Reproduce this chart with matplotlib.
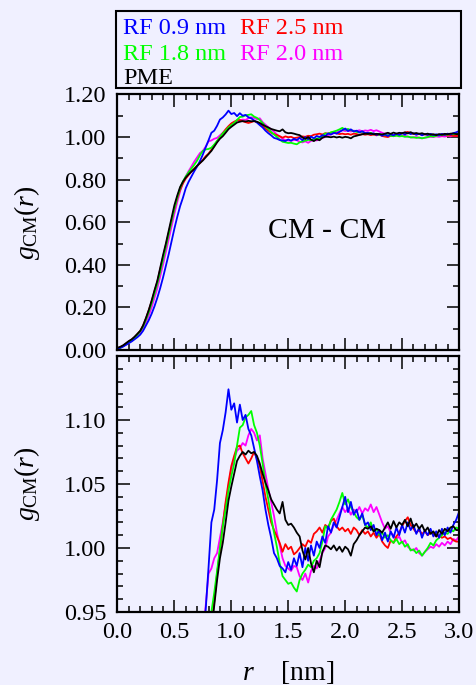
import numpy as np
import matplotlib
matplotlib.use("Agg")
import matplotlib.pyplot as plt
from matplotlib.patches import Rectangle
from matplotlib.ticker import MultipleLocator

plt.rcParams['font.family'] = ['Liberation Serif', 'DejaVu Serif']
plt.rcParams['mathtext.fontset'] = 'custom'
plt.rcParams['mathtext.rm'] = 'Liberation Serif'
plt.rcParams['mathtext.it'] = 'Liberation Serif:italic'

# r grid, 0 .. 3 nm in 0.025 nm steps (8 values per row = 0.2 nm)
r = np.linspace(0.0, 3.0, 121)

g_rf09 = [
    0.005, 0.010, 0.016, 0.024, 0.032, 0.040, 0.050, 0.060,
    0.072, 0.090, 0.115, 0.140, 0.170, 0.205, 0.245, 0.290,
    0.340, 0.395, 0.450, 0.510, 0.570, 0.625, 0.675, 0.715,
    0.760, 0.790, 0.815, 0.840, 0.862, 0.888, 0.918, 0.952,
    0.985, 1.020, 1.030, 1.053, 1.082, 1.092, 1.106, 1.124,
    1.108, 1.113, 1.098, 1.112, 1.100, 1.104, 1.093, 1.088,
    1.078, 1.068, 1.056, 1.045, 1.030, 1.018, 1.008, 0.996,
    0.992, 0.986, 0.984, 0.981, 0.989, 0.983, 0.992, 0.986,
    0.996, 0.985, 1.000, 0.990, 1.002, 0.994, 1.005, 1.000,
    1.009, 1.004, 1.017, 1.012, 1.020, 1.016, 1.024, 1.032,
    1.040, 1.028, 1.036, 1.026, 1.030, 1.022, 1.027, 1.018,
    1.020, 1.014, 1.018, 1.010, 1.014, 1.006, 1.012, 1.005,
    1.013, 1.008, 1.016, 1.010, 1.018, 1.012, 1.020, 1.014,
    1.018, 1.011, 1.016, 1.008, 1.014, 1.010, 1.015, 1.009,
    1.013, 1.008, 1.015, 1.010, 1.016, 1.012, 1.018, 1.022,
    1.028]

g_rf25 = [
    0.008, 0.013, 0.020, 0.030, 0.040, 0.049, 0.060, 0.074,
    0.090, 0.115, 0.148, 0.186, 0.228, 0.275, 0.320, 0.378,
    0.435, 0.492, 0.550, 0.608, 0.665, 0.712, 0.752, 0.782,
    0.805, 0.822, 0.838, 0.852, 0.865, 0.878, 0.893, 0.910,
    0.922, 0.940, 0.958, 0.980, 0.998, 1.018, 1.036, 1.051,
    1.064, 1.072, 1.079, 1.080, 1.074, 1.070, 1.066, 1.070,
    1.075, 1.070, 1.064, 1.052, 1.040, 1.030, 1.020, 1.014,
    1.009, 1.004, 0.997, 1.003, 0.999, 1.001, 0.995, 0.997,
    1.000, 1.003, 1.001, 1.006, 1.004, 1.011, 1.013, 1.016,
    1.012, 1.018, 1.016, 1.021, 1.023, 1.017, 1.014, 1.016,
    1.013, 1.015, 1.011, 1.016, 1.014, 1.010, 1.014, 1.011,
    1.013, 1.009, 1.012, 1.008, 1.011, 1.005, 1.002, 1.000,
    1.006, 1.004, 1.009, 1.012, 1.017, 1.021, 1.024, 1.018,
    1.015, 1.012, 1.014, 1.011, 1.013, 1.010, 1.012, 1.011,
    1.009, 1.010, 1.008, 1.009, 1.007, 1.008, 1.006, 1.005,
    1.005]

g_rf18 = [
    0.005, 0.010, 0.018, 0.027, 0.037, 0.046, 0.058, 0.072,
    0.088, 0.110, 0.142, 0.178, 0.220, 0.265, 0.312, 0.368,
    0.425, 0.485, 0.545, 0.605, 0.665, 0.715, 0.760, 0.792,
    0.815, 0.835, 0.852, 0.870, 0.890, 0.915, 0.935, 0.942,
    0.944, 0.950, 0.965, 0.982, 1.000, 1.017, 1.030, 1.045,
    1.056, 1.066, 1.080, 1.094, 1.096, 1.102, 1.104, 1.107,
    1.096, 1.090, 1.080, 1.066, 1.050, 1.038, 1.024, 1.012,
    1.001, 0.988, 0.978, 0.975, 0.972, 0.973, 0.969, 0.966,
    0.975, 0.980, 0.983, 0.987, 0.985, 0.990, 0.992, 0.996,
    1.005, 1.017, 1.015, 1.022, 1.026, 1.030, 1.036, 1.043,
    1.034, 1.038, 1.032, 1.028, 1.024, 1.022, 1.026, 1.018,
    1.016, 1.020, 1.013, 1.015, 1.010, 1.012, 1.008, 1.010,
    1.006, 1.004, 1.007, 1.003, 1.005, 1.001, 1.003, 0.998,
    0.999, 0.996, 0.998, 0.994, 0.997, 1.000, 1.004, 1.002,
    1.006, 1.008, 1.010, 1.012, 1.011, 1.014, 1.013, 1.016,
    1.015]

g_rf20 = [
    0.008, 0.012, 0.018, 0.026, 0.035, 0.044, 0.055, 0.068,
    0.082, 0.102, 0.130, 0.162, 0.200, 0.245, 0.290, 0.345,
    0.400, 0.460, 0.520, 0.580, 0.640, 0.695, 0.745, 0.785,
    0.815, 0.840, 0.862, 0.885, 0.905, 0.925, 0.935, 0.955,
    0.980, 0.984, 0.992, 0.996, 1.008, 1.020, 1.034, 1.048,
    1.062, 1.070, 1.076, 1.078, 1.082, 1.080, 1.088, 1.093,
    1.090, 1.084, 1.088, 1.070, 1.058, 1.046, 1.036, 1.025,
    1.012, 1.002, 0.992, 0.986, 0.984, 0.982, 0.986, 0.985,
    0.978, 0.975, 0.980, 0.973, 0.982, 0.986, 0.984, 0.990,
    0.996, 1.000, 1.009, 1.012, 1.018, 1.022, 1.027, 1.032,
    1.028, 1.031, 1.026, 1.030, 1.028, 1.032, 1.027, 1.031,
    1.029, 1.034, 1.028, 1.032, 1.026, 1.020, 1.015, 1.017,
    1.012, 1.010, 1.007, 1.009, 1.004, 1.006, 1.001, 0.999,
    0.998, 1.000, 0.996, 0.994, 0.997, 0.999, 1.001, 1.000,
    1.003, 1.001, 1.004, 1.002, 1.005, 1.003, 1.007, 1.006,
    1.009]

g_pme = [
    0.010, 0.015, 0.022, 0.032, 0.042, 0.050, 0.062, 0.076,
    0.090, 0.115, 0.150, 0.188, 0.232, 0.280, 0.325, 0.385,
    0.445, 0.500, 0.560, 0.620, 0.680, 0.725, 0.765, 0.790,
    0.810, 0.825, 0.838, 0.850, 0.865, 0.878, 0.890, 0.905,
    0.920, 0.935, 0.955, 0.975, 0.992, 1.004, 1.020, 1.037,
    1.048, 1.058, 1.068, 1.072, 1.075, 1.073, 1.076, 1.074,
    1.075, 1.072, 1.066, 1.058, 1.051, 1.045, 1.038, 1.034,
    1.030, 1.027, 1.036, 1.022, 1.018, 1.019, 1.016, 1.012,
    1.009, 0.998, 0.991, 1.000, 0.988, 0.981, 0.990, 0.985,
    0.997, 1.002, 1.001, 0.999, 1.002, 0.998, 1.001, 0.997,
    1.001, 0.999, 0.994, 1.003, 1.006, 1.010, 1.013, 1.016,
    1.015, 1.017, 1.013, 1.015, 1.014, 1.012, 1.016, 1.020,
    1.015, 1.021, 1.016, 1.020, 1.018, 1.022, 1.017, 1.023,
    1.016, 1.019, 1.015, 1.018, 1.013, 1.016, 1.011, 1.013,
    1.009, 1.014, 1.011, 1.015, 1.013, 1.016, 1.017, 1.014,
    1.014]

labels = ['RF 0.9 nm', 'RF 2.5 nm', 'RF 1.8 nm', 'RF 2.0 nm', 'PME']
colors = ['#0000ff', '#ff0000', '#00ff00', '#ff00ff', '#000000']
series = [g_rf09, g_rf25, g_rf18, g_rf20, g_pme]
draw_order = [3, 1, 2, 0, 4]

bg = '#f0f0ff'
fs = 17.5
fs_lab = 20

fig = plt.figure(figsize=(4.76, 6.85), dpi=100, facecolor=bg)
ax1 = fig.add_axes([0.2468, 0.4891, 0.7175, 0.3730])
ax2 = fig.add_axes([0.2468, 0.1066, 0.7175, 0.3737])

for ax in (ax1, ax2):
    ax.set_facecolor(bg)
    for i in draw_order:
        ax.plot(r, series[i], color=colors[i], lw=1.3)
    ax.set_xlim(0, 3)
    ax.xaxis.set_major_locator(MultipleLocator(0.5))
    ax.xaxis.set_minor_locator(MultipleLocator(0.1))
    ax.tick_params(which='both', direction='in', top=True, right=True,
                   labelsize=fs, width=1.1)
    ax.tick_params(which='major', length=9)
    ax.tick_params(which='minor', length=4.5)
    ax.tick_params(axis='y', pad=8)
    ax.tick_params(axis='x', pad=7)
    for sp in ax.spines.values():
        sp.set_linewidth(1.6)
    ax.set_ylabel(r'$g_{\mathrm{CM}}(r)$', fontsize=fs_lab)
    ax.yaxis.set_label_coords(-0.22, 0.5)

ax1.set_ylim(0, 1.2)
ax1.yaxis.set_major_locator(MultipleLocator(0.2))
ax1.yaxis.set_minor_locator(MultipleLocator(0.1))
ax1.yaxis.set_major_formatter(lambda v, p: f'{v:.2f}')
ax1.tick_params(axis='x', labelbottom=False)
ax1.text(0.441, 0.438, 'CM - CM', transform=ax1.transAxes,
         fontsize=21.5, ha='left', va='baseline')

ax2.set_ylim(0.95, 1.15)
ax2.set_yticks([0.95, 1.00, 1.05, 1.10])
ax2.yaxis.set_minor_locator(MultipleLocator(0.01))
ax2.yaxis.set_major_formatter(lambda v, p: f'{v:.2f}')
ax2.xaxis.set_major_formatter(lambda v, p: f'{v:.1f}')
ax2.set_xlabel(r'$r$    [nm]', fontsize=fs_lab, labelpad=12)

# legend box with coloured text, two columns
fig.patches.append(Rectangle((0.2437, 0.8715), 0.7248, 0.1124, fill=False,
                             lw=1.5, edgecolor='black',
                             transform=fig.transFigure, figure=fig))
col_x = [0.2584, 0.5042]
row_y = [0.9504, 0.9131, 0.8781]
slots = [(0, 0), (1, 0), (0, 1), (1, 1), (0, 2)]
for (cx, ry), lab, c in zip(slots, labels, colors):
    fig.text(col_x[cx], row_y[ry], lab, color=c, fontsize=fs,
             ha='left', va='baseline')

fig.savefig('out.png', dpi=100, facecolor=bg)
